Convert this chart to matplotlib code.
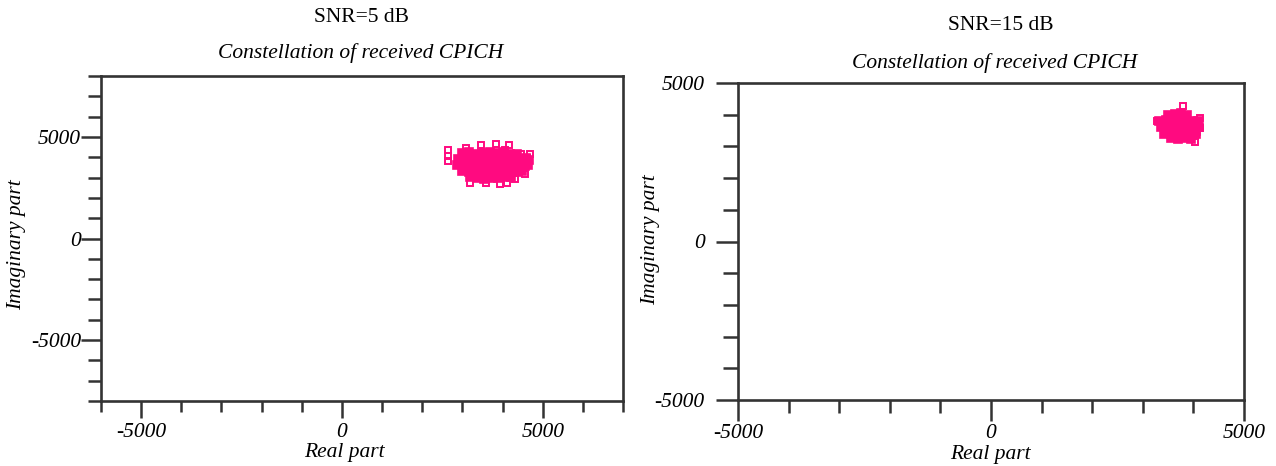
"""
Constellation of the received CPICH at two SNR values (5 dB and 15 dB).

Points read off the reference picture: a dense core of overlapping symbols
(drawn filled) plus the scattered outer symbols (drawn as hollow squares).
"""

import matplotlib.pyplot as plt
import matplotlib.ticker as mticker

plt.rcParams["font.family"] = ["Liberation Serif", "DejaVu Serif"]
plt.rcParams["axes.unicode_minus"] = False

PINK = "#ff0a80"
AXIS_GREY = "#333333"

PANEL_TITLES = ["SNR=5 dB", "SNR=15 dB"]
PLOT_TITLE = "Constellation of received CPICH"
X_LABEL = "Real part"
Y_LABEL = "Imaginary part"

# --- SNR = 5 dB -------------------------------------------------------------
snr5_core_re = [
    3000, 3170, 3340, 3500, 3680, 3850, 4010, 4180, 4350,
    2880, 3050, 3220, 3390, 3560, 3730, 3900, 4070, 4240, 4410, 4580, 4650,
    2860, 3030, 3200, 3370, 3540, 3710, 3880, 4050, 4220, 4390, 4560, 4640,
    3000, 3170, 3340, 3510, 3680, 3850, 4020, 4190, 4360, 4480,
    3200, 3370, 3540, 3710, 3880, 4050, 4200,
    3100, 3420, 3790, 4120, 4470, 2960, 3290, 3620, 3960, 4300,
]
snr5_core_im = [
    4210, 4250, 4180, 4230, 4260, 4200, 4240, 4170, 4150,
    3920, 3880, 3950, 3900, 3870, 3940, 3910, 3880, 3930, 3900, 3950, 3880,
    3600, 3640, 3570, 3610, 3650, 3580, 3620, 3560, 3600, 3640, 3590, 3620,
    3320, 3280, 3300, 3260, 3330, 3290, 3270, 3310, 3250, 3300,
    3010, 2980, 2950, 3000, 2970, 3020, 3030,
    4060, 4050, 4080, 4040, 3760, 3760, 3440, 3450, 3430, 3450,
]
snr5_outer_re = [2643, 2643, 2643, 3091, 3465, 3846, 4169, 4070, 4319, 4468,
                 4692, 4610, 4568, 4319, 3181, 3589, 3945, 4112]
snr5_outer_im = [4340, 4058, 3811, 4439, 4587, 4671, 4587, 4340, 4142, 4142,
                 4177, 3945, 3154, 2907, 2743, 2743, 2659, 2743]

# --- SNR = 15 dB ------------------------------------------------------------
snr15_core_re = [
    3500, 3630, 3760, 3880,
    3330, 3460, 3590, 3720, 3850, 3980, 4100,
    3350, 3480, 3610, 3740, 3870, 4000, 4120,
    3420, 3550, 3680, 3810, 3940, 4050,
    3560, 3690, 3820, 3950,
    3400, 3660, 3920, 3530, 3800, 4060,
]
snr15_core_im = [
    4000, 4030, 4050, 3990,
    3800, 3830, 3780, 3820, 3850, 3790, 3810,
    3600, 3580, 3620, 3590, 3610, 3570, 3600,
    3400, 3380, 3420, 3390, 3410, 3380,
    3250, 3230, 3260, 3240,
    3700, 3700, 3710, 3500, 3490, 3500,
]
snr15_outer_re = [3800, 3275, 4130, 4130, 4032]
snr15_outer_im = [4274, 3801, 3886, 3571, 3148]

W, H = 1276, 466


def px_box(left, top, right, bottom):
    return [left / W, 1 - bottom / H, (right - left) / W, (bottom - top) / H]


def style_axes(ax, xlim, ylim, x_len, y_len, x_pad, y_pad):
    ax.set_xlim(*xlim)
    ax.set_ylim(*ylim)
    for side in ["left", "right", "top", "bottom"]:
        ax.spines[side].set_color(AXIS_GREY)
        ax.spines[side].set_linewidth(1.9)
    for axis in (ax.xaxis, ax.yaxis):
        axis.set_major_locator(mticker.MultipleLocator(5000))
        axis.set_minor_locator(mticker.MultipleLocator(1000))
        axis.set_major_formatter(mticker.FuncFormatter(lambda v, p: f"{v:.0f}"))
    ax.tick_params(axis="x", which="major", direction="out", length=x_len[0],
                   width=1.8, color=AXIS_GREY, pad=x_pad, labelsize=15.5)
    ax.tick_params(axis="x", which="minor", direction="out", length=x_len[1],
                   width=1.8, color=AXIS_GREY)
    ax.tick_params(axis="y", which="major", direction="out", length=y_len[0],
                   width=1.8, color=AXIS_GREY, pad=y_pad, labelsize=15.5)
    ax.tick_params(axis="y", which="minor", direction="out", length=y_len[1],
                   width=1.8, color=AXIS_GREY)
    for lab in ax.get_xticklabels() + ax.get_yticklabels():
        lab.set_fontstyle("italic")


def draw_points(ax, core_re, core_im, outer_re, outer_im):
    ax.plot(outer_re, outer_im, linestyle="none", marker="s", markersize=4.6,
            markerfacecolor="none", markeredgecolor=PINK, markeredgewidth=1.4)
    ax.plot(core_re, core_im, linestyle="none", marker="s", markersize=5.6,
            markerfacecolor=PINK, markeredgecolor=PINK, markeredgewidth=1.2)


fig = plt.figure(figsize=(W / 100, H / 100), dpi=100)

ax1 = fig.add_axes(px_box(101, 76, 623, 401))
draw_points(ax1, snr5_core_re, snr5_core_im, snr5_outer_re, snr5_outer_im)
style_axes(ax1, (-6000, 7000), (-8000, 8000), (12, 8), (14.5, 9.5), 4, 0)

ax2 = fig.add_axes(px_box(738, 83, 1244, 400))
draw_points(ax2, snr15_core_re, snr15_core_im, snr15_outer_re, snr15_outer_im)
style_axes(ax2, (-5000, 5000), (-5000, 5000), (15, 9.5), (16, 10.5), 2, 8)

# panel headings, titles and axis labels placed like the reference
fig.text(361 / W, 1 - 18 / H, PANEL_TITLES[0], ha="center", va="center", fontsize=15.5)
fig.text(361 / W, 1 - 53 / H, PLOT_TITLE, ha="center", va="center",
         fontsize=15.5, style="italic")
fig.text(1001 / W, 1 - 26 / H, PANEL_TITLES[1], ha="center", va="center", fontsize=15.5)
fig.text(995 / W, 1 - 63 / H, PLOT_TITLE, ha="center", va="center",
         fontsize=15.5, style="italic")

fig.text(344 / W, 1 - 453 / H, X_LABEL, ha="center", va="center",
         fontsize=15.5, style="italic")
fig.text(990 / W, 1 - 455 / H, X_LABEL, ha="center", va="center",
         fontsize=15.5, style="italic")
fig.text(17 / W, 1 - 245 / H, Y_LABEL, ha="center", va="center",
         fontsize=15.5, style="italic", rotation=90)
fig.text(651 / W, 1 - 240 / H, Y_LABEL, ha="center", va="center",
         fontsize=15.5, style="italic", rotation=90)

fig.savefig("out.png", dpi=100)
